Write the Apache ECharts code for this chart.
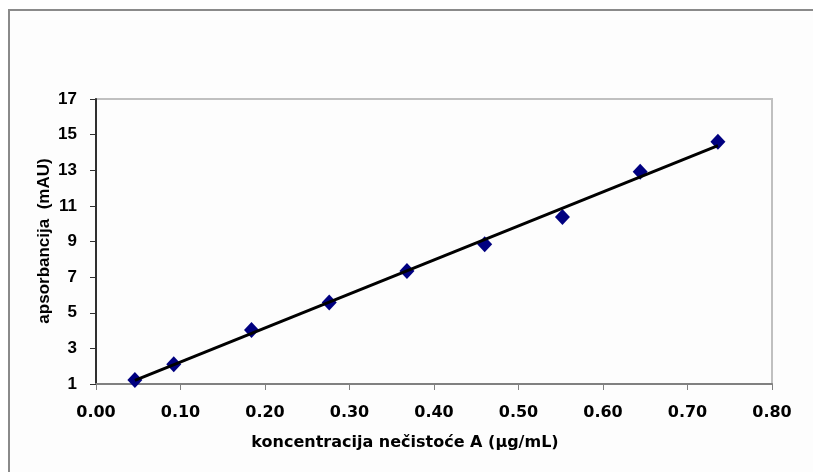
<!DOCTYPE html>
<html>
<head>
<meta charset="utf-8">
<script src="https://cdn.jsdelivr.net/npm/echarts@6/dist/echarts.min.js"></script>
<style>
html,body{margin:0;padding:0;background:#ffffff;}
#chart{width:813px;height:472px;}
</style>
</head>
<body>
<div id="chart"></div>
<script>
// Data
var concentration = [0.046, 0.092, 0.184, 0.276, 0.368, 0.460, 0.552, 0.644, 0.736];
var absorbance = [1.22, 2.11, 4.03, 5.58, 7.34, 8.84, 10.38, 12.92, 14.60];
var xTitle = 'koncentracija nečistoće A (µg/mL)';
var yTitle = 'apsorbancija  (mAU)';

// Linear regression trend line from the data
function fit(xs, ys) {
  var n = xs.length, sx = 0, sy = 0, sxx = 0, sxy = 0;
  for (var i = 0; i < n; i++) { sx += xs[i]; sy += ys[i]; sxx += xs[i]*xs[i]; sxy += xs[i]*ys[i]; }
  var b = (n*sxy - sx*sy) / (n*sxx - sx*sx);
  var a = (sy - b*sx) / n;
  return {a: a, b: b};
}
var f = fit(concentration, absorbance);
var xMin = concentration[0], xMax = concentration[concentration.length-1];
var trend = [[xMin, f.a + f.b*xMin], [xMax, f.a + f.b*xMax]];
var points = concentration.map(function(x, i){ return [x, absorbance[i]]; });

var chart = echarts.init(document.getElementById('chart'), null, {renderer:'canvas'});
chart.setOption({
  animation: false,
  backgroundColor: '#ffffff',
  graphic: [{
    type: 'rect', left: 8, top: 9, z: -10,
    shape: {width: 900, height: 600},
    style: {fill: '#fdfdfd', stroke: '#8a8a8a', lineWidth: 2}
  }, {
    type: 'text', x: 405, y: 443, z: 10,
    style: {text: xTitle, fontFamily: 'DejaVu Sans', fontWeight: 'bold', fontSize: 16, fill: '#000',
      textAlign: 'center', textVerticalAlign: 'middle'}
  }, {
    type: 'text', x: 44, y: 241, rotation: Math.PI/2, z: 10,
    style: {text: yTitle, fontFamily: 'Liberation Sans', fontWeight: 'bold', fontSize: 17, fill: '#000',
      textAlign: 'center', textVerticalAlign: 'middle'}
  }],
  grid: {left: 96, right: 41, top: 99, bottom: 88, show: true, borderColor: '#c0c0c0', borderWidth: 2, backgroundColor: 'transparent'},
  xAxis: {
    type: 'value', min: 0, max: 0.8, interval: 0.1,
    axisLine: {show: true, onZero: false, lineStyle: {color: '#808080', width: 2}},
    axisTick: {show: true, inside: false, length: 6, lineStyle: {color: '#808080', width: 1}},
    axisLabel: {margin: 21, fontFamily: 'DejaVu Sans', fontWeight: 'bold', fontSize: 16, color: '#000',
      formatter: function(v){ return v.toFixed(2); }},
    splitLine: {show: false}
  },
  yAxis: {
    type: 'value', min: 1, max: 17, interval: 2,
    axisLine: {show: true, onZero: false, lineStyle: {color: '#303030', width: 2}},
    axisTick: {show: true, inside: false, length: 6, lineStyle: {color: '#303030', width: 1}},
    axisLabel: {margin: 19, fontFamily: 'Liberation Sans', fontWeight: 'bold', fontSize: 17, color: '#000'},
    splitLine: {show: false}
  },
  series: [{
    type: 'scatter', data: points, symbol: 'diamond', symbolSize: [15, 16],
    itemStyle: {color: '#000080', opacity: 1}, z: 2
  }, {
    type: 'line', data: trend, symbol: 'none', z: 3,
    lineStyle: {color: '#000', width: 3}
  }]
});
</script>
</body>
</html>
